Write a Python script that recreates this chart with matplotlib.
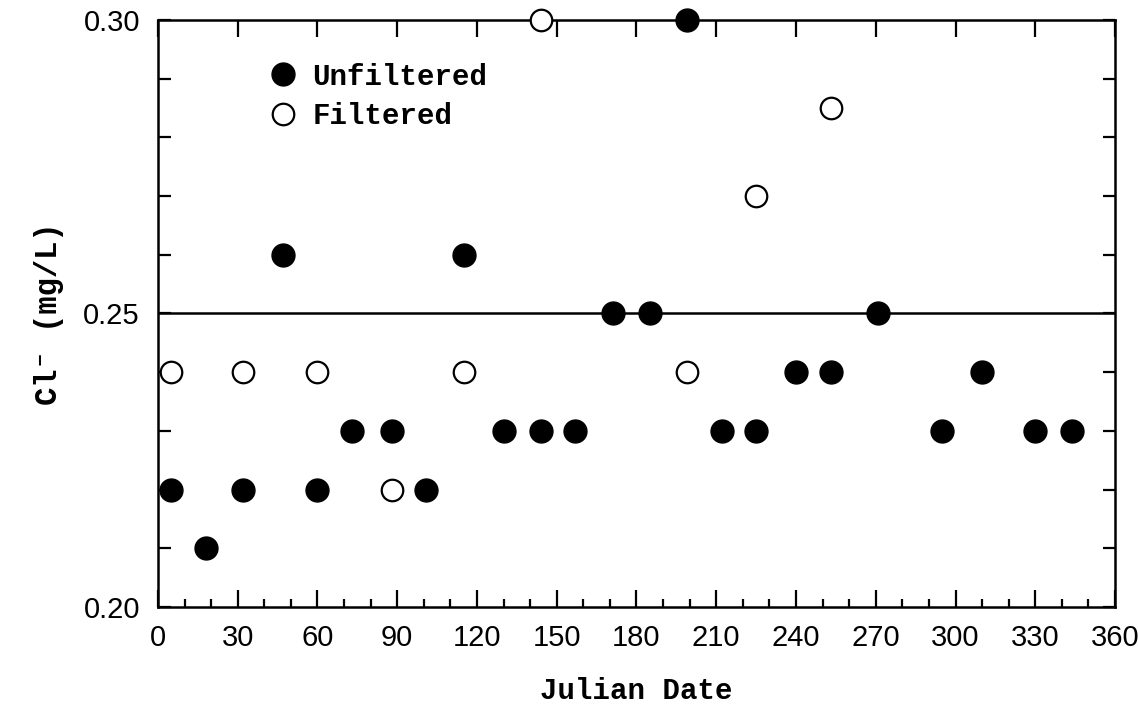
import matplotlib
matplotlib.use('Agg')
from matplotlib import pyplot as plt
from matplotlib.ticker import MultipleLocator
import numpy as np

# chloride, unfiltered samples
unf_day = [5, 18, 32, 47, 60, 73, 88, 101, 115, 130, 144, 157, 171, 185, 199, 212, 225, 240, 253, 271, 295, 310, 330, 344]
unf_cl = [0.22, 0.21, 0.22, 0.26, 0.22, 0.23, 0.23, 0.22, 0.26, 0.23, 0.23, 0.23, 0.25, 0.25, 0.30, 0.23, 0.23, 0.24, 0.24, 0.25, 0.23, 0.24, 0.23, 0.23]

# chloride, filtered samples
filt_day = [5, 32, 60, 88, 115, 144, 199, 225, 253]
filt_cl = [0.24, 0.24, 0.24, 0.22, 0.24, 0.30, 0.24, 0.27, 0.285]

ref_level = 0.25

label_font = ['Liberation Mono', 'DejaVu Sans Mono']

fig = plt.figure(figsize=(11.38, 7.19), dpi=100)
ax = fig.add_axes([0.1388, 0.1558, 0.841, 0.8164])

ax.axhline(ref_level, color='black', lw=1.8, zorder=1)

ax.plot(unf_day, unf_cl, 'o', ms=16.5, color='black', mec='black',
        ls='none', clip_on=False, zorder=3, label='Unfiltered')
ax.plot(filt_day, filt_cl, 'o', ms=15.5, mfc='white', mec='black', mew=1.6,
        ls='none', clip_on=False, zorder=3, label='Filtered')

ax.set_xlim(0, 360)
ax.set_ylim(0.20, 0.30)
ax.xaxis.set_major_locator(MultipleLocator(30))
ax.xaxis.set_minor_locator(MultipleLocator(10))
ax.yaxis.set_major_locator(MultipleLocator(0.05))
ax.yaxis.set_minor_locator(MultipleLocator(0.01))
ax.yaxis.set_major_formatter(plt.FormatStrFormatter('%.2f'))

ax.tick_params(which='both', direction='in', top=True, right=True, width=1.6,
               labelsize=21, colors='black')
ax.tick_params(axis='x', which='major', length=12, pad=12)
ax.tick_params(axis='x', which='minor', length=6, top=False)
ax.tick_params(axis='y', which='both', length=9, pad=13)
for lab in ax.get_xticklabels() + ax.get_yticklabels():
    lab.set_family('Liberation Sans')

for sp in ax.spines.values():
    sp.set_linewidth(1.8)

ax.set_xlabel('Julian Date', family=label_font, weight='bold', fontsize=21, labelpad=18)
ax.set_ylabel('Cl\u207b (mg/L)', family=label_font, weight='bold', fontsize=22, labelpad=14)

leg = ax.legend(loc='upper left', bbox_to_anchor=(0.088, 0.972), frameon=False,
                handlelength=1.0, handletextpad=0.5, labelspacing=0.38,
                prop={'family': label_font, 'weight': 'bold', 'size': 21})

plt.savefig('out.png', dpi=100)
